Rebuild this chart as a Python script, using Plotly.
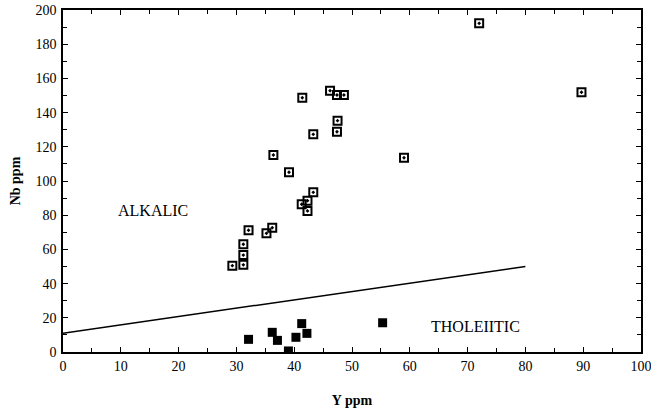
import plotly.graph_objects as go

alk_y = [29.3, 31.2, 31.2, 31.2, 32.1, 35.2, 36.2, 36.4, 39.1, 41.3, 42.3, 42.3, 43.3,
         41.4, 43.3, 46.2, 47.4, 48.6, 47.5, 47.4, 59.0, 72.0, 89.7]
alk_nb = [50.5, 51.0, 56.7, 63.0, 71.2, 69.4, 72.7, 115.2, 105.1, 86.4, 88.5, 82.5, 93.4,
          148.7, 127.3, 152.8, 150.3, 150.3, 135.3, 128.8, 113.6, 192.2, 151.9]

tho_y = [32.1, 36.2, 37.1, 39.0, 40.3, 41.3, 42.2, 55.3]
tho_nb = [7.4, 11.5, 6.8, 0.6, 8.6, 16.6, 10.9, 17.1]

line_y = [0, 80]
line_nb = [11, 50]

fig = go.Figure()
fig.add_trace(go.Scatter(x=line_y, y=line_nb, mode="lines",
                         line=dict(color="black", width=1.5), showlegend=False))
fig.add_trace(go.Scatter(x=alk_y, y=alk_nb, mode="markers",
                         marker=dict(symbol="square-open-dot", size=8, color="black",
                                     line=dict(width=2, color="black")),
                         showlegend=False))
fig.add_trace(go.Scatter(x=tho_y, y=tho_nb, mode="markers",
                         marker=dict(symbol="square", size=9, color="black"),
                         showlegend=False))

font = "Liberation Serif, Times New Roman, serif"
fig.add_annotation(x=15.5, y=82.5, text="ALKALIC", showarrow=False,
                   font=dict(family=font, size=16, color="black"))
fig.add_annotation(x=71.3, y=15.2, text="THOLEIITIC", showarrow=False,
                   font=dict(family=font, size=16, color="black"))

axis_common = dict(showline=True, linecolor="black", linewidth=1.5, mirror="allticks",
                   ticks="inside", ticklen=5, tickcolor="black", tickwidth=1.2,
                   showgrid=False, zeroline=False, automargin=False,
                   ticklabeloverflow="allow",
                   tickfont=dict(family=font, size=14, color="black"))
fig.update_xaxes(range=[0, 100], dtick=10, tick0=0, ticklabelstandoff=0,
                 minor=dict(dtick=5, ticks="inside", ticklen=4, tickcolor="black"),
                 title=dict(text="<b>Y ppm</b>", font=dict(family=font, size=14, color="black"),
                            standoff=23),
                 **axis_common)
fig.update_yaxes(range=[0, 200], dtick=20, tick0=0, ticklabelstandoff=2,
                 minor=dict(dtick=10, ticks="inside", ticklen=4, tickcolor="black"),
                 title=dict(text="<b>Nb ppm</b>", font=dict(family=font, size=14, color="black"),
                            standoff=12),
                 **axis_common)

fig.update_layout(width=651, height=410,
                  margin=dict(l=63, r=10, t=10, b=58),
                  plot_bgcolor="white", paper_bgcolor="white")

fig.write_html("out.html", config={"displayModeBar": False},
               post_script="document.body.style.margin='0';")
